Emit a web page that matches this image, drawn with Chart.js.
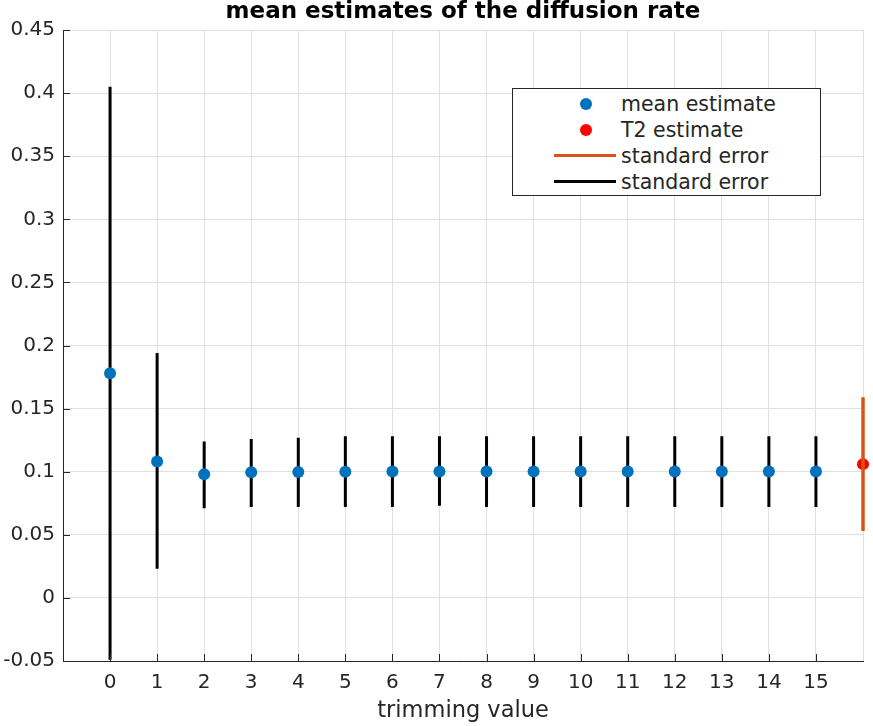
<!DOCTYPE html>
<html lang="en">
<head>
  <meta charset="UTF-8">
  <title>mean estimates of the diffusion rate</title>
  <script src="https://cdn.jsdelivr.net/npm/chart.js"></script>
  <style>
    body, html {
      width: 873px;
      height: 726px;
      margin: 0;
      padding: 0;
      overflow: hidden;
      background: #fff;
    }
    .wrap {
      position: relative;
      width: 873px;
      height: 726px;
    }
    #diffChart {
      width: 873px;
      height: 726px;
    }
    .legend {
      position: absolute;
      left: 512px;
      top: 88px;
      width: 307px;
      height: 106px;
      border: 1px solid #262626;
      background: #fff;
      font-family: "DejaVu Sans", sans-serif;
      font-size: 20.5px;
      color: #262626;
    }
    .row {
      position: absolute;
      left: 0;
      height: 26px;
      width: 100%;
    }
    .row span.txt {
      position: absolute;
      left: 108px;
      top: 1px;
      line-height: 24px;
      white-space: nowrap;
    }
    .dot {
      position: absolute;
      left: 67px;
      top: 7px;
      width: 12px;
      height: 12px;
      border-radius: 50%;
    }
    .line {
      position: absolute;
      left: 41px;
      top: 11px;
      width: 62px;
      height: 3px;
    }
  </style>
</head>
<body>
  <div class="wrap">
    <canvas id="diffChart" width="873" height="726"></canvas>
    <div class="legend">
      <div class="row" style="top:2px"><div class="dot" style="background:#0072BD"></div><span class="txt">mean estimate</span></div>
      <div class="row" style="top:28px"><div class="dot" style="background:#FF0000"></div><span class="txt">T2 estimate</span></div>
      <div class="row" style="top:54px"><div class="line" style="background:#D95319"></div><span class="txt">standard error</span></div>
      <div class="row" style="top:80px"><div class="line" style="background:#000"></div><span class="txt">standard error</span></div>
    </div>
  </div>

  <script>
    // trimming values and the estimates
    const trimValues = [0, 1, 2, 3, 4, 5, 6, 7, 8, 9, 10, 11, 12, 13, 14, 15];
    const meanEst = [0.178, 0.108, 0.098, 0.0995, 0.0998, 0.1, 0.1001, 0.1002, 0.1002, 0.1002, 0.1002, 0.1002, 0.1002, 0.1002, 0.1002, 0.1002];
    const seUpper = [0.405, 0.194, 0.124, 0.126, 0.127, 0.128, 0.128, 0.128, 0.128, 0.128, 0.128, 0.128, 0.128, 0.128, 0.128, 0.128];
    const seLower = [-0.049, 0.023, 0.071, 0.072, 0.072, 0.072, 0.072, 0.073, 0.072, 0.072, 0.072, 0.072, 0.072, 0.072, 0.072, 0.072];

    const t2X = 16;
    const t2Est = 0.106;
    const t2Upper = 0.159;
    const t2Lower = 0.053;

    const xMin = -1, xMax = 16;
    const yMin = -0.05, yMax = 0.45, yStep = 0.05;

    const FONT = '"DejaVu Sans", sans-serif';
    const AXIS = '#262626';
    const GRID = '#e0e0e0';

    // vertical error segments, separated by gaps
    const errSegs = [];
    trimValues.forEach((x, i) => {
      errSegs.push({ x: x, y: seLower[i] });
      errSegs.push({ x: x, y: seUpper[i] });
      errSegs.push({ x: x, y: null });
    });

    // small inward tick marks on the left and bottom axes (MATLAB style)
    const inwardTicks = {
      id: 'inwardTicks',
      afterDatasetsDraw(c) {
        const g = c.ctx, a = c.chartArea;
        const xs = c.scales.x, ys = c.scales.y;
        g.save();
        g.strokeStyle = AXIS;
        g.lineWidth = 1;
        g.beginPath();
        ys.ticks.forEach(t => {
          const py = Math.round(ys.getPixelForValue(t.value)) + 0.5;
          g.moveTo(a.left, py);
          g.lineTo(a.left + 7, py);
        });
        xs.ticks.forEach(t => {
          if (t.value < 0 || t.value > 15) return;
          const px = Math.round(xs.getPixelForValue(t.value)) + 0.5;
          g.moveTo(px, a.bottom);
          g.lineTo(px, a.bottom - 7);
        });
        g.stroke();
        g.restore();
      }
    };

    const ctx = document.getElementById('diffChart').getContext('2d');
    const chart = new Chart(ctx, {
      type: 'scatter',
      data: {
        datasets: [
          {
            label: 'standard error',
            data: [{ x: t2X, y: t2Lower }, { x: t2X, y: t2Upper }],
            showLine: true,
            borderColor: '#D95319',
            borderWidth: 3.5,
            pointRadius: 0,
            clip: false
          },
          {
            label: 'mean estimate',
            data: trimValues.map((x, i) => ({ x: x, y: meanEst[i] })),
            backgroundColor: '#0072BD',
            borderColor: '#0072BD',
            pointRadius: 6,
            pointBorderWidth: 0,
            clip: false
          },
          {
            label: 'T2 estimate',
            data: [{ x: t2X, y: t2Est }],
            backgroundColor: '#FF0000',
            borderColor: '#FF0000',
            pointRadius: 6,
            pointBorderWidth: 0,
            clip: false
          },
          {
            label: 'standard error',
            data: errSegs,
            showLine: true,
            spanGaps: false,
            borderColor: '#000',
            borderWidth: 3,
            pointRadius: 0,
            clip: false
          }
        ]
      },
      options: {
        responsive: false,
        animation: false,
        layout: { padding: { left: 0, right: 10, top: 0, bottom: 0 } },
        plugins: {
          legend: { display: false },
          tooltip: { enabled: false },
          title: {
            display: true,
            fullSize: false, // centre over the plot area, not the canvas
            text: 'mean estimates of the diffusion rate',
            color: '#000',
            font: { family: FONT, size: 23, weight: 'bold', lineHeight: 1 },
            padding: { top: 1, bottom: 6 }
          }
        },
        scales: {
          x: {
            type: 'linear',
            min: xMin,
            max: xMax,
            afterFit: (s) => { s.height = 65; },
            ticks: {
              stepSize: 1,
              autoSkip: false,
              maxRotation: 0,
              color: AXIS,
              padding: 10,
              font: { family: FONT, size: 20 },
              callback: (v) => (v >= 0 && v <= 15 ? String(v) : '')
            },
            grid: { color: GRID, drawTicks: false },
            border: { color: AXIS, width: 1 },
            title: {
              display: true,
              text: 'trimming value',
              color: AXIS,
              font: { family: FONT, size: 22.5 },
              padding: { top: 0, bottom: 1 }
            }
          },
          y: {
            min: yMin,
            max: yMax,
            afterFit: (s) => { s.width = 63; },
            ticks: {
              stepSize: yStep,
              color: AXIS,
              padding: 8,
              font: { family: FONT, size: 20 },
              callback: (v) => String(parseFloat(Number(v).toFixed(2)))
            },
            grid: { color: GRID, drawTicks: false },
            border: { color: AXIS, width: 1 }
          }
        }
      },
      plugins: [inwardTicks]
    });
  </script>
</body>
</html>
